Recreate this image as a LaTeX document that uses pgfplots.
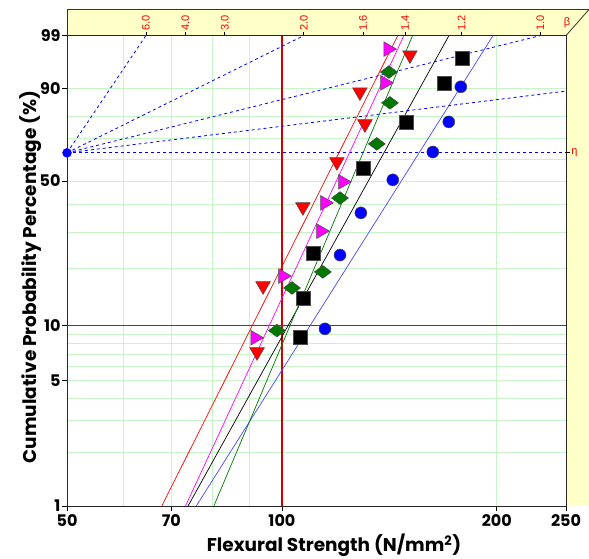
\documentclass[border=0pt]{standalone}
\usepackage{pgfplots}
\pgfplotsset{compat=1.18}
\usepackage{fontspec}
\setmainfont{Poppins}
\newfontfamily\labfont{Liberation Sans}
\definecolor{gridg}{RGB}{200,245,200}
\definecolor{bandy}{RGB}{255,255,200}
\definecolor{mag}{RGB}{255,0,255}
\definecolor{dgreen}{RGB}{0,120,0}
\definecolor{lblue}{RGB}{70,70,255}
\definecolor{vred}{RGB}{210,0,0}
\definecolor{hred}{RGB}{235,0,0}
\begin{document}
\begin{tikzpicture}[x=1pt,y=1pt]
\useasboundingbox (0,0) rectangle (589,559);
\fill[bandy] (67,523.4) -- (67,550) -- (589,550) -- (589,53) -- (566,53) -- (566,523.4) -- cycle;
\draw[black!80, line width=0.8pt] (67,523.4) -- (67,550) -- (589,550);
\draw[black!80, line width=0.8pt] (566,523.4) -- (589,549.5);
\begin{axis}[
  at={(67pt,53pt)}, anchor=south west, scale only axis,
  width=499pt, height=470.4pt,
  xmode=log, xmin=50, xmax=250,
  ymin=-4.6001, ymax=1.5272,
  y filter/.expression={ln(-ln(1-y/100))},
  xtick={50,70,100,200,250}, xticklabels={50,70,100,200,250},
  minor xtick={60,70,80,90,200},
  ytick={-4.6001,-2.9702,-2.2504,-0.3665,0.8340,1.5272},
  yticklabels={1,5,10,50,90,99},
  minor ytick={-3.9019,-3.4914,-3.1985,-2.9702,-2.7827,-2.6232,-2.4843,-2.3611,-1.4999,-1.0309,-0.6717,-0.3665,-0.0874,0.1856,0.4759,0.8340},
  xminorgrids=true, yminorgrids=true, xmajorgrids=false, ymajorgrids=false,
  minor grid style={draw=gridg, line width=0.8pt},
  xtick pos=bottom, ytick pos=left,
  tick align=outside, major tick length=5pt, minor tick length=0pt,
  major tick style={draw=black, line width=0.8pt},
  axis line style={black!85, line width=0.9pt},
  tick label style={font=\bfseries\fontsize{16}{16}\selectfont},
  yticklabel style={xshift=2pt},
  xlabel={Flexural Strength (N/mm\textsuperscript{2})},
  ylabel={Cumulative Probability Percentage (\%)},
  label style={font=\bfseries\fontsize{18.5}{18.5}\selectfont},
  xlabel style={at={(axis description cs:0.535,-0.083)}, anchor=center},
  ylabel style={at={(axis description cs:-0.072,0.487)}, anchor=center},
  clip=false,
]
% reference lines
\addplot[vred, line width=1.5pt] coordinates {(100,1) (100,99)};
\addplot[hred, line width=1.5pt] coordinates {(50,10) (250,10)};
% beta fan lines from pivot
\addplot[blue, line width=0.8pt, dash pattern=on 3pt off 3pt] coordinates {(50,63.212) (64.49,99)};
\addplot[blue, line width=0.8pt, dash pattern=on 3pt off 3pt] coordinates {(50,63.212) (107.3,99)};
\addplot[blue, line width=0.8pt, dash pattern=on 3pt off 3pt] coordinates {(50,63.212) (230.2,99)};
\addplot[blue, line width=0.8pt, dash pattern=on 3pt off 3pt] coordinates {(50,63.212) (250,89.3)};
\addplot[blue, line width=0.8pt, dash pattern=on 3pt off 3pt] coordinates {(50,63.212) (250,63.212)};
\addplot[only marks, mark=*, mark size=4.5pt, blue] coordinates {(50,63.212)};
% fitted lines
\addplot[red, line width=0.7pt] coordinates {(67.9,1) (145.3,99)};
\addplot[mag, line width=0.7pt] coordinates {(73.3,1) (148.2,99)};
\addplot[black, line width=0.7pt] coordinates {(73.9,1) (171.4,99)};
\addplot[lblue, line width=0.7pt] coordinates {(75.9,1) (197.6,99)};
\addplot[dgreen, line width=0.7pt] coordinates {(80.3,1) (152.4,99)};
% data
\addplot[only marks, mark=triangle*, mark size=8.5pt, mark options={rotate=180, fill=red, draw=black!70, line width=0.5pt}] table[x=x,y=F] {
x F
92.3 7.2
94.1 16.2
107.0 39.0
119.4 58.9
130.7 76.7
128.6 89.0
151.1 97.2
};
\addplot[only marks, mark=triangle*, mark size=8.5pt, mark options={rotate=-90, fill=mag, draw=black!70, line width=0.5pt}] table[x=x,y=F] {
x F
91.7 8.6
100.3 18.2
113.4 30.3
114.9 40.6
121.7 49.6
139.4 91.7
140.8 97.9
};
\addplot[only marks, mark=diamond*, mark size=8.5pt, mark options={rotate=90, fill=dgreen, draw=black!70, line width=0.5pt}] table[x=x,y=F] {
x F
98.4 9.4
103.3 15.8
114.1 19.1
120.6 42.6
135.8 67.5
141.7 85.3
141.2 94.3
};
\addplot[only marks, mark=square*, mark size=7pt, mark options={fill=black, draw=black!70, line width=0.5pt}] table[x=x,y=F] {
x F
106.0 8.7
107.0 14.0
110.5 23.8
129.8 56.0
149.1 77.6
168.6 91.7
179.2 96.7
};
\addplot[only marks, mark=*, mark size=6pt, mark options={fill=blue, draw=black!70, line width=0.5pt}] table[x=x,y=F] {
x F
114.9 9.6
120.6 23.2
129.0 36.7
143.0 50.5
162.7 63.6
171.3 77.6
178.1 90.6
};
\draw[black, line width=0.8pt] (axis cs:250,0) -- ++(4pt,0pt) node[right, text=red, font=\labfont\fontsize{11}{11}\selectfont, inner sep=1pt]{η};
\end{axis}
\begin{axis}[
  at={(67pt,53pt)}, anchor=south west, scale only axis,
  width=499pt, height=470.4pt,
  xmode=log, xmin=50, xmax=250, ymin=0, ymax=1,
  axis x line*=top, axis y line=none,
  xtick={64.49,73.24,83.19,107.3,129.9,148.8,178.5,230.2},
  xticklabels={6.0,4.0,3.0,2.0,1.6,1.4,1.2,1.0},
  xminorticks=false,
  tick align=outside, major tick length=3.5pt,
  major tick style={draw=black, line width=0.8pt},
  xticklabel style={rotate=90, anchor=west, text=red, font=\labfont\fontsize{11}{11}\selectfont, inner sep=1.5pt},
  axis line style={black!85, line width=0.9pt},
]
\end{axis}
\node[text=red, font=\labfont\fontsize{11}{11}\selectfont] at (567,536) {β};
\end{tikzpicture}
\end{document}
